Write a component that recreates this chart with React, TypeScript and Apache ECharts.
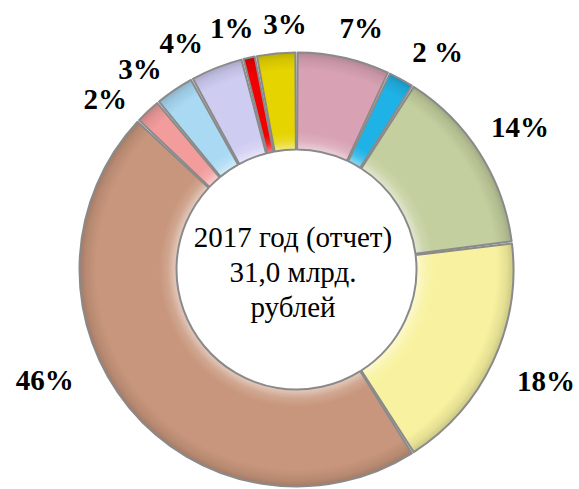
import React, { useEffect, useRef } from "react";
import * as echarts from "echarts";

// Slices clockwise from 12 o'clock
const values = [7, 2, 14, 18, 46, 2, 3, 4, 1, 3];
const labelTexts = ["7%", "2 %", "14%", "18%", "46%", "2%", "3%", "4%", "1%", "3%"];
const colors = [
  "#D8A2B4",
  "#1FB2E6",
  "#C3CF9E",
  "#F8F2A0",
  "#C8967C",
  "#F29C9C",
  "#A9D9F3",
  "#CFCCF2",
  "#F00000",
  "#E5D400",
];
const centerLines = ["2017 год (отчет)", "31,0 млрд.", "рублей"];

// label placement (polar: angle in degrees, radius in px) - layout only
const labelAngle = [75, 57, 32.5, -24, 203.7, 138.3, 128, 117, 105, 92.7];
const labelRadius = [250, 259, 265, 273, 275, 256, 254, 254, 250, 246];

const CX = 296.5;
const CY = 269.5;
const R_IN = 120;
const R_OUT = 217;
const SERIF = "Liberation Serif";

function mix(hex: string, t: number): string {
  const n = parseInt(hex.slice(1), 16);
  let r = (n >> 16) & 255, g = (n >> 8) & 255, b = n & 255;
  const target = t >= 0 ? 255 : 0;
  const k = Math.abs(t);
  r = Math.round(r + (target - r) * k);
  g = Math.round(g + (target - g) * k);
  b = Math.round(b + (target - b) * k);
  return `rgb(${r},${g},${b})`;
}

function bevel(c: string) {
  const f = R_IN / R_OUT;
  return {
    type: "radial",
    x: CX,
    y: CY,
    r: R_OUT,
    global: true,
    colorStops: [
      { offset: 0, color: c },
      { offset: f, color: mix(c, 0.5) },
      { offset: f + 0.04, color: mix(c, 0.15) },
      { offset: f + 0.08, color: c },
      { offset: 0.92, color: c },
      { offset: 0.97, color: mix(c, -0.08) },
      { offset: 1, color: mix(c, -0.18) },
    ],
  };
}

export default function App() {
  const ref = useRef<HTMLDivElement>(null);
  useEffect(() => {
    if (!ref.current) return;
    const chart = echarts.init(ref.current, undefined, { renderer: "svg" });
    chart.setOption({
      animation: false,
      backgroundColor: "#ffffff",
      series: [
        {
          type: "pie",
          center: [CX, CY],
          radius: [R_IN, R_OUT],
          startAngle: 90,
          clockwise: true,
          padAngle: 0.6,
          avoidLabelOverlap: false,
          data: values.map((v, i) => ({
            value: v,
            name: labelTexts[i],
            itemStyle: { color: bevel(colors[i]) },
          })),
          itemStyle: { borderColor: "#8a8a8a", borderWidth: 2 },
          label: {
            show: true,
            position: "outside",
            formatter: (p: any) => labelTexts[p.dataIndex],
            fontFamily: SERIF,
            fontWeight: "bold",
            fontSize: 29,
            color: "#000000",
          },
          labelLine: { show: false },
          labelLayout: (p: any) => {
            const i = p.dataIndex;
            const a = (labelAngle[i] * Math.PI) / 180;
            return {
              x: CX + labelRadius[i] * Math.cos(a),
              y: CY - labelRadius[i] * Math.sin(a),
              align: "center",
              verticalAlign: "middle",
            };
          },
          emphasis: { disabled: true },
        },
      ],
      graphic: [
        {
          type: "text",
          x: 293,
          y: 272,
          style: {
            text: centerLines.join("\n"),
            fontFamily: SERIF,
            fontSize: 29,
            lineHeight: 35,
            fill: "#000000",
            align: "center",
            verticalAlign: "middle",
          },
        },
      ],
    });
    return () => chart.dispose();
  }, []);
  return (
    <div
      ref={ref}
      style={{ position: "fixed", left: 0, top: 0, width: 579, height: 489 }}
    />
  );
}
